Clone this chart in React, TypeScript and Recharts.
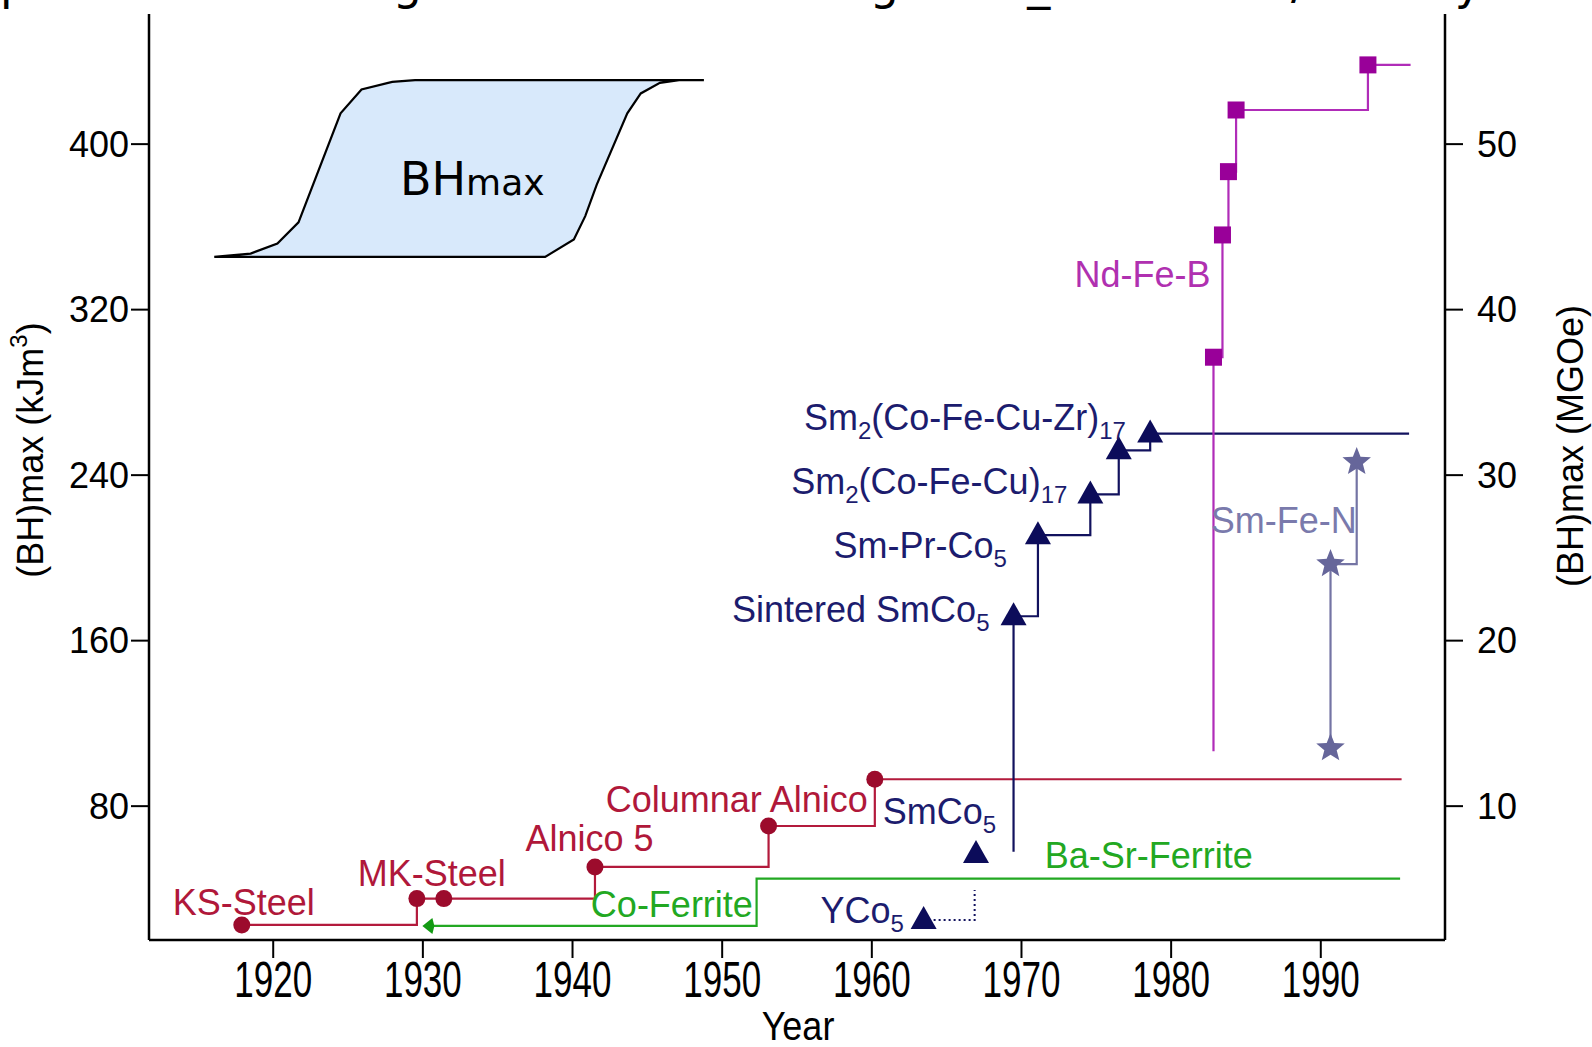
import React from 'react';
import { ComposedChart, Line, Area, Scatter, XAxis, YAxis, Customized } from 'recharts';

const FONT = "'Liberation Sans', Arial, Helvetica, sans-serif";
const INSET_FONT = "'DejaVu Sans', sans-serif";

// axis ticks
const yearTicks = [1920, 1930, 1940, 1950, 1960, 1970, 1980, 1990];
const kjTicks = [80, 160, 240, 320, 400];
const mgoeTicks = [10, 20, 30, 40, 50];

// steels & alnico
const steelYears = [1917.9, 1929.6, 1931.4, 1941.5, 1953.1, 1960.2, 1995.4];
const steelValues = [22.6, 35.3, 35.3, 50.6, 70.4, 93.0, 93.0];
const steelMarked = [true, true, true, true, true, true, false];

// ferrites
const ferriteYears = [1930.5, 1952.3, 1995.3];
const ferriteValues = [22.1, 45.0, 45.0];
const ferriteMarked = [true, false, false];

// YCo5 (dotted)
const yco5Years = [1963.46, 1966.87, 1966.87];
const yco5Values = [25.0, 25.0, 39.5];
const yco5Marked = [true, false, false];

// SmCo5 single point
const smco5Years = [1966.96];
const smco5Values = [56.9];

// Sm-Co family
const smcoYears = [1969.47, 1969.47, 1971.1, 1974.6, 1976.5, 1978.6, 1995.9];
const smcoValues = [58.0, 171.8, 211.0, 230.7, 252.0, 260.1, 260.1];
const smcoMarked = [false, true, true, true, true, true, false];

// Nd-Fe-B
const ndYears = [1982.83, 1982.83, 1983.43, 1983.83, 1984.34, 1993.15, 1996.0];
const ndValues = [106.5, 297.0, 356.1, 386.7, 416.5, 438.3, 438.3];
const ndMarked = [false, true, true, true, true, true, false];

// Sm-Fe-N
const smfnYears = [1990.65, 1990.65, 1992.4];
const smfnValues = [108.0, 197.0, 246.4];
const smfnMarked = [true, true, true];

// hysteresis loop inset (drawn in data space)
const loopYears = [1916.06, 1918.49, 1920.28, 1921.69, 1924.5, 1925.9, 1927.95, 1929.48, 1948.78, 1947.12, 1945.84, 1944.56, 1943.66, 1941.62, 1940.85, 1940.09, 1938.17, 1916.06];
const loopValues = [345.5, 347.1, 352.0, 362.2, 414.9, 426.4, 430.1, 430.9, 430.9, 430.9, 429.6, 424.5, 414.9, 380.4, 365.2, 353.9, 345.5, 345.5];
const loopBase = 345.5;

// annotations (data-space anchors)
const annotations = [
  { id: 'ks', x: 1918.03, y: 27.5, series: 'steel', parts: [['KS-Steel', 'n']] },
  { id: 'mk', x: 1930.59, y: 41.2, series: 'steel', parts: [['MK-Steel', 'n']] },
  { id: 'al5', x: 1941.14, y: 58.4, series: 'steel', parts: [['Alnico 5', 'n']] },
  { id: 'col', x: 1950.98, y: 77.1, series: 'steel', parts: [['Columnar Alnico', 'n']] },
  { id: 'cof', x: 1946.64, y: 26.5, series: 'ferrite', parts: [['Co-Ferrite', 'n']] },
  { id: 'basr', x: 1978.5, y: 50.1, series: 'ferrite', parts: [['Ba-Sr-Ferrite', 'n']] },
  { id: 'yco', x: 1959.36, y: 23.6, series: 'smco', parts: [['YCo', 'n'], ['5', 's']] },
  { id: 'smco5', x: 1964.52, y: 71.2, series: 'smco', parts: [['SmCo', 'n'], ['5', 's']] },
  { id: 'sint', x: 1959.26, y: 168.8, series: 'smco', parts: [['Sintered SmCo', 'n'], ['5', 's']] },
  { id: 'smpr', x: 1963.23, y: 199.8, series: 'smco', parts: [['Sm-Pr-Co', 'n'], ['5', 's']] },
  { id: 'sm2cu', x: 1963.84, y: 230.7, series: 'smco', parts: [['Sm', 'n'], ['2', 's'], ['(Co-Fe-Cu)', 'n'], ['17', 's']] },
  { id: 'sm2zr', x: 1966.22, y: 261.6, series: 'smco', parts: [['Sm', 'n'], ['2', 's'], ['(Co-Fe-Cu-Zr)', 'n'], ['17', 's']] },
  { id: 'nd', x: 1978.09, y: 330.8, series: 'nd', parts: [['Nd-Fe-B', 'n']] },
  { id: 'smfn', x: 1987.53, y: 212.0, series: 'smfn', parts: [['Sm-Fe-N', 'n']] },
  { id: 'bh', x: 1933.3, y: 375.5, series: 'inset', parts: [['BH', 'b'], ['max', 'm']] },
];

const topCaption = 'photos and images of the best magnetic_materials/history.htm';

const COLORS: Record<string, { line: string; mark: string; text: string }> = {
  steel: { line: '#b31a3c', mark: '#9c0b2c', text: '#b0183a' },
  ferrite: { line: '#22a822', mark: '#139a13', text: '#22a822' },
  smco: { line: '#12125e', mark: '#0c0c5a', text: '#1c1c6e' },
  nd: { line: '#b02cb8', mark: '#990099', text: '#b030b0' },
  smfn: { line: '#7474a4', mark: '#66669a', text: '#7a7aac' },
  inset: { line: '#000', mark: '#000', text: '#000' },
};

const zip = (xs: number[], ys: number[], ms?: boolean[]) =>
  xs.map((x, i) => ({ x, y: ys[i], m: ms ? ms[i] : true }));

const steelData = zip(steelYears, steelValues, steelMarked);
const ferriteData = zip(ferriteYears, ferriteValues, ferriteMarked);
const yco5Data = zip(yco5Years, yco5Values, yco5Marked);
const smco5Data = zip(smco5Years, smco5Values);
const smcoData = zip(smcoYears, smcoValues, smcoMarked);
const ndData = zip(ndYears, ndValues, ndMarked);
const smfnData = zip(smfnYears, smfnValues, smfnMarked);
const loopData = zip(loopYears, loopValues);

const tri = (cx: number, cy: number, fill: string, key?: any) => (
  <polygon key={key} points={`${cx},${cy - 14} ${cx - 13},${cy + 9} ${cx + 13},${cy + 9}`} fill={fill} />
);

const starPts = (cx: number, cy: number, R: number, r: number) => {
  const pts: string[] = [];
  for (let i = 0; i < 10; i++) {
    const a = -Math.PI / 2 + (i * Math.PI) / 5;
    const rr = i % 2 === 0 ? R : r;
    pts.push(`${cx + rr * Math.cos(a)},${cy + rr * Math.sin(a)}`);
  }
  return pts.join(' ');
};

const makeDot = (kind: string, color: string) => (p: any) => {
  const k = `${kind}-${p.index}`;
  if (!p.payload || !p.payload.m || p.cx == null || p.cy == null) return <g key={k} />;
  const { cx, cy } = p;
  if (kind === 'circle') return <circle key={k} cx={cx} cy={cy} r={8.5} fill={color} />;
  if (kind === 'diamond')
    return <polygon key={k} points={`${cx - 8},${cy} ${cx + 2},${cy - 8} ${cx + 4},${cy} ${cx + 2},${cy + 8}`} fill={color} />;
  if (kind === 'tri') return tri(cx, cy, color, k);
  if (kind === 'square') return <rect key={k} x={cx - 8.5} y={cy - 8.5} width={17} height={17} fill={color} />;
  if (kind === 'star') return <polygon key={k} points={starPts(cx, cy, 15, 6.5)} fill={color} />;
  return <g key={k} />;
};

const AnnotationShape = (p: any) => {
  const { cx, cy, payload } = p;
  if (cx == null || cy == null) return <g />;
  const c = COLORS[payload.series];
  const inset = payload.series === 'inset';
  let shift = 0;
  const spans = payload.parts.map((part: string[], i: number) => {
    const [t, kind] = part;
    let dy = 0;
    let fs = 36;
    if (kind === 's') {
      dy = 9 - shift;
      shift = 9;
      fs = 24;
    } else {
      dy = -shift;
      shift = 0;
      if (kind === 'b') fs = 46;
      if (kind === 'm') fs = 36;
    }
    return (
      <tspan key={i} dy={dy} fontSize={fs}>
        {t}
      </tspan>
    );
  });
  return (
    <text x={cx} y={cy} textAnchor="middle" fill={c.text} fontFamily={inset ? INSET_FONT : FONT} fontSize={36}>
      {spans}
    </text>
  );
};

const XTick = (p: any) => {
  const { x, y, payload } = p;
  return (
    <text
      transform={`translate(${x},${y + 1}) scale(1,1.42)`}
      textAnchor="middle"
      dy="0.72em"
      fontFamily={FONT}
      fontSize={35}
      fill="#000"
    >
      {payload.value}
    </text>
  );
};

const Titles = () => (
  <g>
    <text x={0} y={-1} fontFamily={INSET_FONT} fontSize={46} fill="#000" textLength={1592} lengthAdjust="spacing">
      {topCaption}
    </text>
    <text
      transform="translate(30,450) rotate(-90)"
      textAnchor="middle"
      dominantBaseline="central"
      fontFamily={FONT}
      fontSize={36}
      fill="#000"
    >
      (BH)max (kJm
      <tspan fontSize={24} dy={-12}>
        3
      </tspan>
      <tspan dy={12}>)</tspan>
    </text>
    <text
      transform="translate(1570,446) rotate(-90)"
      textAnchor="middle"
      dominantBaseline="central"
      fontFamily={FONT}
      fontSize={36}
      fill="#000"
    >
      (BH)max (MGOe)
    </text>
    <text transform="translate(798,1040) scale(1,1.12)" textAnchor="middle" fontFamily={FONT} fontSize={36} fill="#000">
      Year
    </text>
  </g>
);

const axisLine = { stroke: '#000', strokeWidth: 2.5 };
const topLine = { stroke: '#000', strokeWidth: 3 };
const tickLine = { stroke: '#000', strokeWidth: 2 };
const tickStyle = { fontSize: 36, fill: '#000', fontFamily: FONT };

export default function App() {
  return (
    <div style={{ position: 'absolute', left: 0, top: 0, width: 1592, height: 1047, background: '#fff', overflow: 'hidden' }}>
      <ComposedChart width={1592} height={1047} margin={{ top: 14, right: 47, bottom: 37, left: 49 }}>
        <XAxis
          type="number"
          dataKey="x"
          domain={[1911.7, 1998.3]}
          ticks={yearTicks}
          interval={0}
          allowDataOverflow
          height={70}
          tickSize={18}
          tickMargin={2}
          axisLine={axisLine}
          tickLine={tickLine}
          tick={XTick}
        />
        <XAxis
          xAxisId="top"
          orientation="top"
          type="number"
          dataKey="x"
          domain={[1911.7, 1998.3]}
          allowDataOverflow
          height={0}
          tick={false}
          tickLine={false}
          axisLine={topLine}
        />
        <YAxis
          yAxisId="left"
          orientation="left"
          type="number"
          dataKey="y"
          domain={[15.3, 462.9]}
          ticks={kjTicks}
          interval={0}
          allowDataOverflow
          width={100}
          tickSize={18}
          tickMargin={2}
          axisLine={axisLine}
          tickLine={tickLine}
          tick={tickStyle}
        />
        <YAxis
          yAxisId="right"
          orientation="right"
          type="number"
          domain={[1.9125, 57.8625]}
          ticks={mgoeTicks}
          interval={0}
          allowDataOverflow
          width={100}
          tickSize={18}
          tickMargin={14}
          axisLine={axisLine}
          tickLine={tickLine}
          tick={tickStyle}
        />

        <Area
          yAxisId="left"
          data={loopData}
          dataKey="y"
          type="linear"
          baseValue={loopBase}
          stroke="#000"
          strokeWidth={2.2}
          fill="#d8e9fb"
          fillOpacity={1}
          dot={false}
          activeDot={false}
          isAnimationActive={false}
        />

        <Line yAxisId="left" data={steelData} dataKey="y" type="stepAfter" stroke={COLORS.steel.line} strokeWidth={2.2}
          dot={makeDot('circle', COLORS.steel.mark)} activeDot={false} isAnimationActive={false} />
        <Line yAxisId="left" data={ferriteData} dataKey="y" type="stepAfter" stroke={COLORS.ferrite.line} strokeWidth={2.2}
          dot={makeDot('diamond', COLORS.ferrite.mark)} activeDot={false} isAnimationActive={false} />
        <Line yAxisId="left" data={yco5Data} dataKey="y" type="linear" stroke={COLORS.smco.line} strokeWidth={2}
          strokeDasharray="2 3" dot={makeDot('tri', COLORS.smco.mark)} activeDot={false} isAnimationActive={false} />
        <Line yAxisId="left" data={smcoData} dataKey="y" type="stepAfter" stroke={COLORS.smco.line} strokeWidth={2.2}
          dot={makeDot('tri', COLORS.smco.mark)} activeDot={false} isAnimationActive={false} />
        <Line yAxisId="left" data={ndData} dataKey="y" type="stepAfter" stroke={COLORS.nd.line} strokeWidth={2.2}
          dot={makeDot('square', COLORS.nd.mark)} activeDot={false} isAnimationActive={false} />
        <Line yAxisId="left" data={smfnData} dataKey="y" type="stepAfter" stroke={COLORS.smfn.line} strokeWidth={2.2}
          dot={makeDot('star', COLORS.smfn.mark)} activeDot={false} isAnimationActive={false} />
        <Scatter yAxisId="left" data={smco5Data} dataKey="y" isAnimationActive={false}
          shape={(p: any) => (p.cx == null ? <g /> : tri(p.cx, p.cy, COLORS.smco.mark))} />
        <Scatter yAxisId="left" data={annotations} dataKey="y" isAnimationActive={false} shape={AnnotationShape} />
        <Customized component={Titles} />
      </ComposedChart>
    </div>
  );
}
